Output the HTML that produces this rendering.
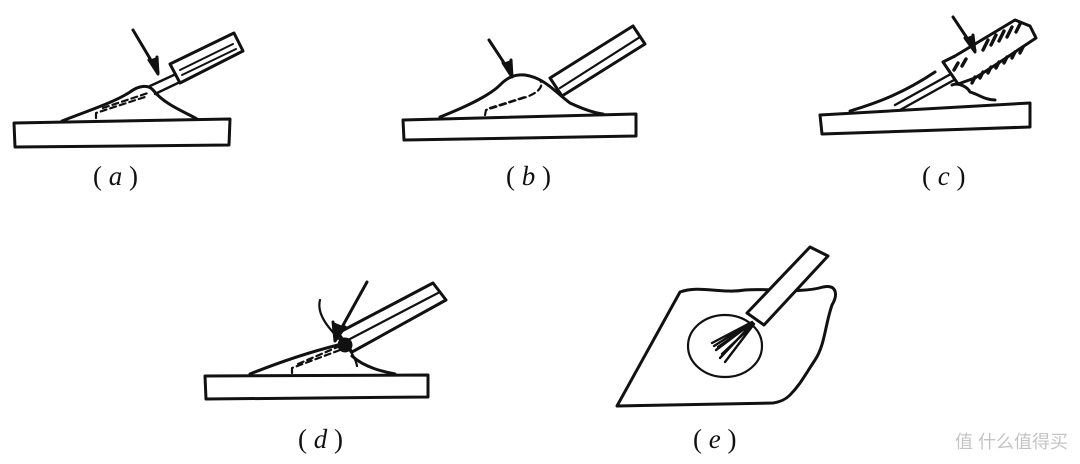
<!DOCTYPE html>
<html><head><meta charset="utf-8"><style>
html,body{margin:0;padding:0;background:#fff;width:1080px;height:464px;overflow:hidden}
svg{display:block}
.l{font-family:"Liberation Serif",serif;font-size:27px;fill:#111}
.i{font-style:italic}
</style></head><body>
<svg width="1080" height="464" viewBox="0 0 1080 464" xmlns="http://www.w3.org/2000/svg">
<g fill="none" stroke="#111" stroke-width="3" stroke-linecap="round" stroke-linejoin="round">
<!-- a -->
<path d="M14 123 L230 119 L229 145 L15 147 Z" fill="#fff"/>
<path d="M62 121 C90 110 115 102 130 92 C138 86 148 84 153 90 C165 105 185 112 197 119"/>
<path d="M96 118 L96 113 L148 96 M103 108 L148 93" stroke-dasharray="6 4" stroke-width="2.2"/>
<path d="M150 86 L176 74 M155 94 L180 82" stroke-width="2.4"/>
<path d="M170 64 L234 33 L243 51 L180 83 Z" fill="#fff"/>
<path d="M180 70 L233 44 M182 75 L236 49" stroke-width="2"/>
<path d="M133 30 L158 72"/>
<path d="M149 60 L158 74 L157 57" fill="#111"/>
<!-- b -->
<path d="M403 120 L636 114 L636 136 L404 140 Z" fill="#fff"/>
<path d="M440 117 C470 105 490 95 500 85 C508 77 515 74 525 75 C545 78 555 92 570 103 C585 110 595 113 603 114"/>
<path d="M485 115 L486 110 L520 99 M490 108 L525 97 M520 99 C535 95 545 88 540 80" stroke-dasharray="6 4" stroke-width="2.2"/>
<path d="M550 78 L633 26 L645 44 L562 96 Z" fill="#fff"/>
<path d="M560 88 L640 37" stroke-width="2.2"/>
<path d="M489 40 L512 75"/>
<path d="M503 63 L512 77 L511 60" fill="#111"/>
<!-- c -->
<path d="M820 115 L1030 103 L1030 127 L822 134 Z" fill="#fff"/>
<path d="M850 111 C880 102 905 92 935 72"/>
<path d="M895 105 L1030 30 M900 110 L1035 35" stroke-width="2.4"/>
<path d="M943 62 L955 56 L1015 20 L1030 26 L1036 38 L1000 62 L975 78 L958 84 Z" fill="#fff"/>
<g stroke-width="3.4"><path d="M958 63 L954 70 M966 59 L962 66 M988 40 L983 50 M996 35 L991 45 M1004 31 L999 41 M1012 27 L1007 37 M1020 24 L1016 32 M975 77 L972 83 M983 72 L980 78 M991 67 L988 73 M999 62 L996 68 M1007 57 L1004 63 M1015 52 L1012 58 M1023 47 L1020 53"/></g>
<path d="M952 85 C960 82 968 88 970 92 C980 95 985 100 995 100"/>
<path d="M953 17 L975 50"/>
<path d="M965 38 L975 52 L973 35" fill="#111"/>
<!-- d -->
<path d="M205 376 L428 375 L428 397 L206 399 Z" fill="#fff"/>
<path d="M250 374 C280 362 310 352 338 345 M352 356 C365 368 385 372 395 374"/>
<path d="M292 373 L292 368 L340 350 M298 364 L340 346" stroke-dasharray="6 4" stroke-width="2.2"/>
<path d="M338 333 L433 283 L446 300 L352 352 Z" fill="#fff"/>
<path d="M348 340 L438 293" stroke-width="2.2"/>
<circle cx="345" cy="345" r="6" fill="#111"/>
<path d="M320 300 C316 315 330 330 345 345 C352 352 356 360 357 366" stroke-width="2.2"/>
<path d="M367 282 L336 338"/>
<path d="M333 322 L335 341 L345 327" fill="#111"/>
<!-- e -->
<path d="M680 292 C700 285 720 294 745 290 C770 288 800 294 823 287 C837 284 838 295 832 305 C825 325 825 345 815 360 C805 375 800 385 790 395 C785 400 780 402 773 403 L617 406 Z"/>
<ellipse cx="725" cy="346" rx="37" ry="31" stroke-width="2.2"/>
<path d="M747 313 L810 247 L828 256 L764 325 Z" fill="#fff"/>
<path d="M752 322 L712 343 M752 323 L716 350 M753 323 L720 358 M754 324 L725 362 M754 324 L722 354 M753 323 L718 347 M752 322 L714 346" stroke-width="2.4"/>
</g>
<text class="l" x="93" y="185">( <tspan class="i">a</tspan> )</text>
<text class="l" x="506" y="185">( <tspan class="i">b</tspan> )</text>
<text class="l" x="922" y="185">( <tspan class="i">c</tspan> )</text>
<text class="l" x="298" y="448">( <tspan class="i">d</tspan> )</text>
<text class="l" x="693" y="448">( <tspan class="i">e</tspan> )</text>
<text x="955" y="448" font-family="'Liberation Sans','Noto Sans CJK SC',sans-serif" font-size="18" fill="#c4c4c4">值 什么值得买</text>
</svg>
</body></html>
